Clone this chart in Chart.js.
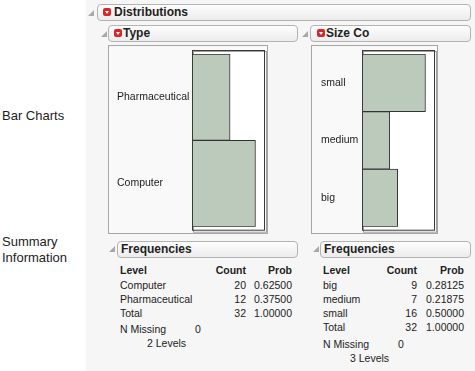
<!DOCTYPE html>
<html>
<head>
<meta charset="utf-8">
<script src="https://cdn.jsdelivr.net/npm/chart.js"></script>
<style>
  body { margin: 0; width: 475px; height: 371px; position: relative; overflow: hidden; background: #fff;
         font-family: "Liberation Sans", Arial, sans-serif; color: #222; }
  .abs { position: absolute; white-space: nowrap; }
  #panel { position: absolute; left: 86px; top: 0; width: 389px; height: 371px; background: #f6f6f6; }
  .hdr { position: absolute; box-sizing: border-box; height: 17px; border: 1px solid #b3b3b3; border-radius: 4px;
         background: linear-gradient(#fdfdfd, #ececec); font-weight: bold; font-size: 12px; line-height: 15px; }
  .hdr span { position: absolute; top: 0; }
  .menu { position: absolute; top: 3px; width: 8px; height: 8px; border-radius: 2px; background: #d9262b; }
  .menu:after { content: ""; position: absolute; left: 1.5px; top: 3px; border-left: 2.5px solid transparent;
                border-right: 2.5px solid transparent; border-top: 3px solid #fff; }
  .tri { position: absolute; width: 0; height: 0; border-left: 6px solid transparent; border-bottom: 6px solid #a8a8a8; }
  .box { position: absolute; box-sizing: border-box; border: 1px solid #a6a6a6; background: #f9f9f9; }
  .box canvas { position: absolute; left: 0; top: 0; }
</style>
</head>
<body>
<div id="panel"></div>

<div class="tri" style="left:88px;top:10px"></div>
<div class="hdr" style="left:97px;top:4px;width:374px"><div class="menu" style="left:5px"></div><span style="left:16px">Distributions</span></div>

<div class="tri" style="left:101px;top:31px"></div>
<div class="hdr" style="left:108px;top:25px;width:190px"><div class="menu" style="left:5px"></div><span style="left:14px">Type</span></div>

<div class="tri" style="left:302px;top:31px"></div>
<div class="hdr" style="left:310px;top:25px;width:161px"><div class="menu" style="left:6px"></div><span style="left:15px">Size Co</span></div>

<div class="box" style="left:108px;top:45px;width:160px;height:189px"><canvas id="typeChart" width="158" height="187"></canvas></div>
<div class="box" style="left:311px;top:45px;width:127px;height:189px"><canvas id="sizeChart" width="125" height="187"></canvas></div>

<div class="tri" style="left:109px;top:246px"></div>
<div class="hdr" style="left:117px;top:241px;width:181px"><span style="left:3px">Frequencies</span></div>

<div class="tri" style="left:313px;top:246px"></div>
<div class="hdr" style="left:320px;top:241px;width:151px"><span style="left:3px">Frequencies</span></div>

<div class="abs" style="left:2px;top:108px;font-size:13px;line-height:16px">Bar Charts</div>
<div class="abs" style="left:2px;top:234px;font-size:13px;line-height:16px">Summary</div>
<div class="abs" style="left:2px;top:250px;font-size:13px;line-height:16px">Information</div>

<script>
const typeLevels = ['Computer', 'Pharmaceutical'];
const typeCounts = [20, 12];
const typeMissing = 0;

const sizeLevels = ['big', 'medium', 'small'];
const sizeCounts = [9, 7, 16];
const sizeMissing = 0;

const typeAxisMax = 23;
const sizeAxisMax = 18.4;

const barFill = 'rgb(188,202,188)';

// white plot frame, slightly taller than the bars
const frame = {
  id: 'frame',
  beforeDatasetsDraw(chart) {
    const a = chart.chartArea, c = chart.ctx;
    c.save();
    c.fillStyle = '#fff';
    c.fillRect(a.left, a.top - 4, a.width, a.height + 8);
    c.strokeStyle = '#a0a0a0';
    c.lineWidth = 1;
    c.strokeRect(a.left + 1.5, a.top - 2.5, a.width, a.height + 8);
    c.restore();
  },
  afterDatasetsDraw(chart) {
    const a = chart.chartArea, c = chart.ctx;
    c.save();
    c.strokeStyle = '#3a3a3a';
    c.lineWidth = 1;
    c.strokeRect(a.left + 0.5, a.top - 3.5, a.width - 1, a.height + 7);
    c.restore();
  }
};

function barChart(id, levels, counts, max, padLeft, axisWidth) {
  return new Chart(document.getElementById(id), {
    type: 'bar',
    data: {
      labels: levels,
      datasets: [{
        data: counts,
        backgroundColor: barFill,
        borderColor: '#333',
        borderWidth: 1,
        borderSkipped: false,
        categoryPercentage: 1,
        barPercentage: 1
      }]
    },
    options: {
      indexAxis: 'y',
      responsive: false,
      animation: false,
      layout: { padding: { left: padLeft, right: 2, top: 8, bottom: 6 } },
      plugins: { legend: { display: false }, tooltip: { enabled: false } },
      scales: {
        x: { display: false, min: 0, max: max },
        y: {
          reverse: true,
          grid: { display: false },
          border: { display: false },
          afterFit: s => { s.width = axisWidth; },
          ticks: {
            crossAlign: 'far',
            padding: 0,
            color: '#222',
            font: { family: 'Liberation Sans', size: 10.5 }
          }
        }
      }
    },
    plugins: [frame]
  });
}

barChart('typeChart', typeLevels, typeCounts, typeAxisMax, 8, 75);
barChart('sizeChart', sizeLevels, sizeCounts, sizeAxisMax, 9, 41);

function put(text, x, y, opts = {}) {
  const d = document.createElement('div');
  d.className = 'abs';
  d.textContent = text;
  d.style.fontSize = (opts.size || 10.5) + 'px';
  d.style.lineHeight = '14px';
  d.style.top = (y - 7) + 'px';
  if (opts.bold) d.style.fontWeight = 'bold';
  if (opts.right) d.style.right = (475 - x) + 'px';
  else d.style.left = x + 'px';
  document.body.appendChild(d);
}

function freqTable(levels, counts, missing, x, countX, probX, missGap) {
  const total = counts.reduce((s, v) => s + v, 0);
  put('Level', x, 270, { bold: true });
  put('Count', countX, 270, { bold: true, right: true });
  put('Prob', probX, 270, { bold: true, right: true });
  let y = 285;
  levels.forEach((lv, i) => {
    put(lv, x, y);
    put(String(counts[i]), countX, y, { right: true });
    put((counts[i] / total).toFixed(5), probX, y, { right: true });
    y += 14;
  });
  put('Total', x, y);
  put(String(total), countX, y, { right: true });
  put((1).toFixed(5), probX, y, { right: true });
  y += missGap;
  put('N Missing', x, y);
  put(String(missing), x + 75, y);
  put(levels.length + ' Levels', x + 27, y + 14);
}

freqTable(typeLevels, typeCounts, typeMissing, 120, 246, 292, 16);
freqTable(sizeLevels, sizeCounts, sizeMissing, 323, 417, 464, 17);
</script>
</body>
</html>
